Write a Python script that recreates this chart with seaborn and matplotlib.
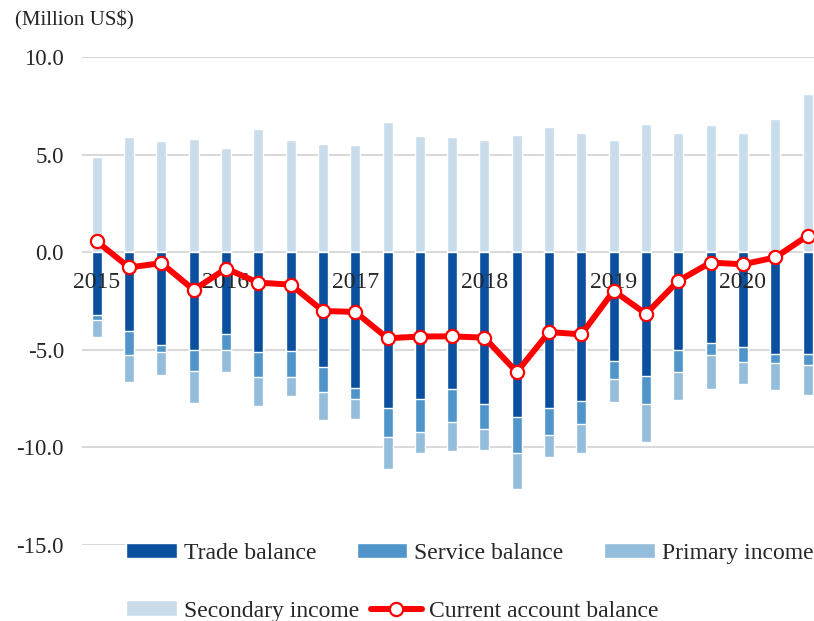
import numpy as np
import pandas as pd
import matplotlib
matplotlib.use("Agg")
import matplotlib.pyplot as plt
from matplotlib.patches import Patch
from matplotlib.lines import Line2D
from matplotlib.transforms import offset_copy
import seaborn as sns

# ---- data (quarterly, 2015Q1 .. 2020Q3), million US$ ----
years = [2015, 2016, 2017, 2018, 2019, 2020]
quarters = [f"{y}Q{q}" for y in years for q in range(1, 5)][:23]

trade = [-3.23, -4.03, -4.75, -5.01, -4.21, -5.13, -5.06, -5.88, -6.97, -7.97, -7.54, -7.03,
         -7.79, -8.46, -8.00, -7.63, -5.57, -6.34, -5.03, -4.67, -4.87, -5.23, -5.23]
service = [-0.26, -1.22, -0.38, -1.09, -0.80, -1.26, -1.33, -1.30, -0.57, -1.52, -1.67, -1.69,
           -1.25, -1.85, -1.38, -1.19, -0.91, -1.45, -1.09, -0.61, -0.76, -0.43, -0.56]
primary = [-0.85, -1.38, -1.14, -1.61, -1.13, -1.47, -0.98, -1.40, -1.02, -1.60, -1.06, -1.49,
           -1.10, -1.81, -1.10, -1.49, -1.18, -1.92, -1.44, -1.73, -1.12, -1.40, -1.53]
secondary = [4.89, 5.88, 5.71, 5.79, 5.32, 6.31, 5.74, 5.54, 5.49, 6.68, 5.93, 5.91,
             5.76, 6.00, 6.39, 6.12, 5.73, 6.58, 6.10, 6.50, 6.12, 6.80, 8.12]
current_account = [0.55, -0.78, -0.56, -1.93, -0.84, -1.56, -1.66, -3.01, -3.06, -4.41, -4.32, -4.31,
                   -4.38, -6.14, -4.09, -4.21, -1.98, -3.16, -1.47, -0.53, -0.62, -0.27, 0.84]

labels = ["Trade balance", "Service balance", "Primary income",
          "Secondary income", "Current account balance"]
colors = ["#0b4f9f", "#4f95c9", "#94bcdb", "#c9dcec", "#ff0000"]

df = pd.DataFrame({"quarter": quarters, "trade": trade, "service": service,
                   "primary": primary, "secondary": secondary, "ca": current_account})
df["pos"] = np.arange(len(df))
# negative components stack downward: draw the deepest total first
df["cum_primary"] = df["trade"] + df["service"] + df["primary"]
df["cum_service"] = df["trade"] + df["service"]

sns.set_theme(style="white")
plt.rcParams["font.family"] = ["Liberation Serif", "DejaVu Serif"]
plt.rcParams["axes.unicode_minus"] = False

fig = plt.figure(figsize=(8.14, 6.21), dpi=100)
ax = fig.add_axes([0.1007, 0.1224, 0.8993, 0.7858])

bw = 0.31
sns.barplot(data=df, x="pos", y="secondary", color=colors[3], width=bw,
            saturation=1, errorbar=None, ax=ax, zorder=2)
sns.barplot(data=df, x="pos", y="cum_primary", color=colors[2], width=bw,
            saturation=1, errorbar=None, ax=ax, zorder=2)
sns.barplot(data=df, x="pos", y="cum_service", color=colors[1], width=bw,
            saturation=1, errorbar=None, ax=ax, zorder=2)
sns.barplot(data=df, x="pos", y="trade", color=colors[0], width=bw,
            saturation=1, errorbar=None, ax=ax, zorder=2)

sns.lineplot(data=df, x="pos", y="ca", color=colors[4], linewidth=4.3,
             marker="o", markersize=9.5, markerfacecolor="white",
             markeredgecolor=colors[4], markeredgewidth=1.6, ax=ax, zorder=4)

# axes styling
ax.set_ylim(-15, 10)
ax.set_xlim(-0.46, 22.2)
ax.set_yticks([10, 5, 0, -5, -10, -15])
ax.set_yticklabels([f"{v:.1f}" for v in [10, 5, 0, -5, -10, -15]], fontsize=16.5)
ax.tick_params(axis="y", length=0, pad=13)
ax.set_xticks([])
ax.set_xlabel("")
ax.set_ylabel("")
ax.yaxis.grid(True, color="#d9d9d9", linewidth=1.5)
ax.set_axisbelow(True)
for s in ax.spines.values():
    s.set_visible(False)

# year labels just below the zero line
year_tr = offset_copy(ax.transData, fig=fig, x=0, y=-30, units="dots")
for y in years:
    p = quarters.index(f"{y}Q1")
    ax.text(p, 0, str(y), transform=year_tr, ha="center", va="center",
            fontsize=17, zorder=3)

fig.text(0.018, 0.967, "(Million US$)", fontsize=15, ha="left", va="center")

# legend in two rows, like the original
patches = [Patch(facecolor=c) for c in colors[:4]]
ca_handle = Line2D([], [], color=colors[4], linewidth=4.3, marker="o", markersize=9.5,
                   markerfacecolor="white", markeredgecolor=colors[4], markeredgewidth=1.6)
leg_kw = dict(frameon=True, facecolor="white", edgecolor="none", framealpha=1,
              fontsize=17, borderpad=0.05, handlelength=2.15, handleheight=0.65,
              handletextpad=0.3)
fig.legend(patches[:3], labels[:3], ncol=3, loc="center left",
           bbox_to_anchor=(0.139, 0.109), columnspacing=1.7, **leg_kw)
fig.legend([patches[3], ca_handle], labels[3:], ncol=2, loc="center left",
           bbox_to_anchor=(0.139, 0.016), columnspacing=0.5, **leg_kw)

fig.savefig("out.png", dpi=100)
